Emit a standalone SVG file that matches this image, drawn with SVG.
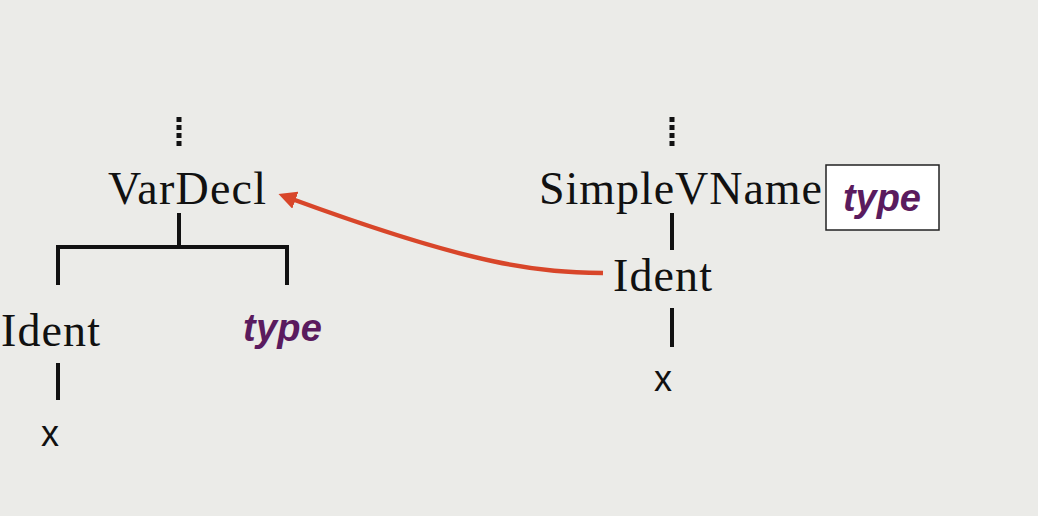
<svg xmlns="http://www.w3.org/2000/svg" width="1038" height="516" viewBox="0 0 1038 516">
<defs>
<style>
.serif{font-family:"Liberation Serif","Times New Roman",serif;font-size:46px;fill:#111;}
.sans{font-family:"Liberation Sans",Arial,sans-serif;font-size:36px;fill:#111;}
.type{font-family:"Liberation Sans",Arial,sans-serif;font-size:38px;font-weight:bold;font-style:italic;fill:#5a1b5e;}
.edge{stroke:#111;stroke-width:4;fill:none;}
.dots{stroke:#111;stroke-width:5;stroke-dasharray:5 3;fill:none;}
</style>
<marker id="ah" viewBox="0 0 10 10" refX="2" refY="5" markerWidth="4" markerHeight="4" orient="auto-start-reverse" markerUnits="strokeWidth">
<path d="M0,0 L10,5 L0,10 Z" fill="#d8462a"/>
</marker>
</defs>
<rect width="1038" height="516" fill="#ebebe8"/>
<g id="connectors">
<line class="dots" x1="179" y1="117" x2="179" y2="148"/>
<line class="edge" x1="179" y1="213" x2="179" y2="247"/>
<polyline class="edge" points="58,285 58,247 287,247 287,285"/>
<line class="edge" x1="58" y1="363" x2="58" y2="400"/>
<line class="dots" x1="672" y1="117" x2="672" y2="148"/>
<line class="edge" x1="672" y1="213" x2="672" y2="250"/>
<line class="edge" x1="672" y1="308" x2="672" y2="347"/>
<path d="M603,273 C540,272 480,268 292,199" stroke="#d8462a" stroke-width="4.5" fill="none" marker-end="url(#ah)"/>
</g>
<g id="vardecl"><text class="serif" x="108" y="204" textLength="158">VarDecl</text></g>
<g id="ident-left"><text class="serif" x="1" y="346" textLength="99">Ident</text></g>
<g id="x-left"><text class="sans" x="50" y="446" text-anchor="middle">x</text></g>
<g id="type-left"><text class="type" x="243" y="341" textLength="79">type</text></g>
<g id="simplevname"><text class="serif" x="539" y="204" textLength="283">SimpleVName</text></g>
<g id="type-box"><rect x="826" y="165" width="113" height="65" fill="#fff" stroke="#222" stroke-width="1.5"/><text class="type" x="843" y="211" textLength="78">type</text></g>
<g id="ident-right"><text class="serif" x="613" y="291" textLength="99">Ident</text></g>
<g id="x-right"><text class="sans" x="663" y="391" text-anchor="middle">x</text></g>
</svg>
